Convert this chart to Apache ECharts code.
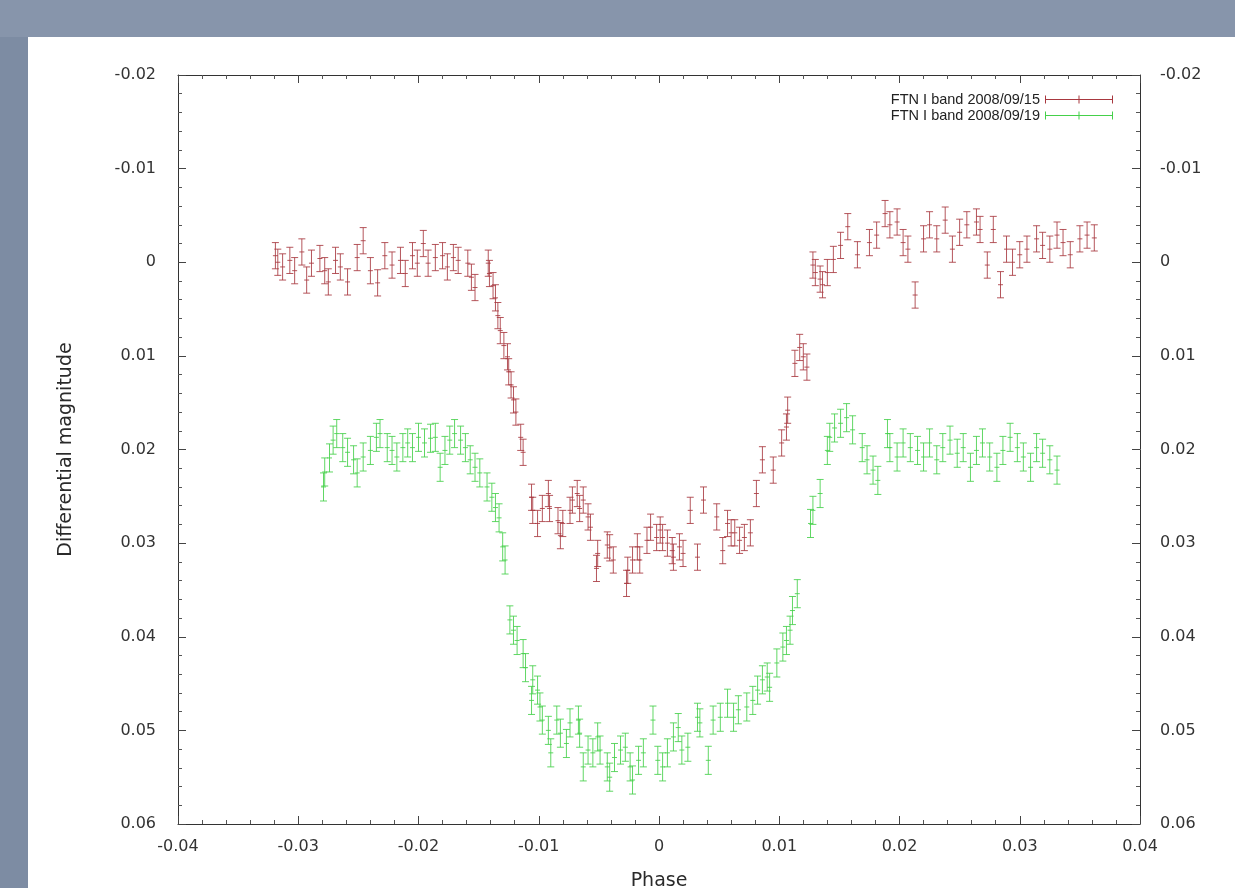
<!DOCTYPE html>
<html>
<head>
<meta charset="utf-8">
<script src="https://cdn.jsdelivr.net/npm/echarts@6/dist/echarts.min.js"></script>
<style>
html,body{margin:0;padding:0;background:#7f8ea5;}
#c{width:1235px;height:888px;}
</style>
</head>
<body>
<div id="c"></div>
<script>
// ---- data (phase, differential magnitude) ----
const seriesNames = ['FTN I band 2008/09/15', 'FTN I band 2008/09/19'];

const redPhase = [
 -0.0319,-0.0317,-0.0313,-0.0307,-0.0303,-0.0297,-0.0293,-0.0289,-0.0282,-0.0278,-0.0275,-0.0269,-0.0265,-0.0259,
 -0.0251,-0.0246,-0.0240,-0.0234,-0.0228,-0.0222,-0.0215,-0.0211,-0.0205,-0.0201,-0.0196,-0.0192,-0.0186,-0.0180,
 -0.0176,-0.0171,-0.0167,-0.0159,-0.0156,-0.0153,-0.0142,-0.0141,-0.0138,
 -0.0136,-0.0134,-0.0132,-0.0129,-0.0126,-0.0125,-0.0123,-0.0121,-0.0119,-0.0115,-0.0113,
 -0.0106,-0.0105,-0.0101,-0.0097,-0.0092,-0.0091,-0.0084,-0.0082,-0.0080,-0.0074,-0.0072,-0.0068,-0.0066,-0.0063,
 -0.0059,-0.0057,-0.0052,-0.0051,-0.0043,-0.0041,-0.0038,-0.0027,-0.0026,-0.0022,-0.0018,-0.0016,-0.0010,-0.0007,
 -0.0002,0.0001,0.0003,0.0007,0.0011,0.0012,0.0017,0.0020,0.0026,0.0032,0.0037,0.0048,0.0053,0.0057,0.0060,0.0063,
 0.0067,0.0071,0.0076,
 0.0081,0.0086,0.0095,0.0102,0.0106,0.0107,0.0113,0.0117,0.0120,0.0123,
 0.0128,0.0130,0.0134,0.0136,0.0140,0.0145,0.0151,0.0157,0.0165,0.0175,0.0181,0.0188,0.0192,0.0198,0.0203,0.0207,
 0.0213,0.0220,0.0225,0.0231,0.0238,0.0244,0.0250,0.0256,0.0264,0.0267,0.0273,0.0278,0.0284,0.0289,0.0294,0.0300,
 0.0306,0.0314,0.0319,0.0325,0.0331,0.0336,0.0342,0.0350,0.0356,0.0362
];
const redMag = [
 -0.0007,0.0000,0.0005,-0.0002,0.0009,-0.0011,0.0019,0.0001,-0.0004,0.0009,0.0021,-0.0002,0.0005,0.0021,
 -0.0005,-0.0023,0.0009,0.0022,-0.0007,0.0003,-0.0002,0.0012,-0.0007,0.0001,-0.0020,0.0001,-0.0005,-0.0007,
 0.0005,-0.0005,-0.0002,0.0001,0.0016,0.0027,0.0001,0.0012,0.0025,
 0.0038,0.0057,0.0073,0.0089,0.0101,0.0117,0.0131,0.0147,0.0160,0.0187,0.0203,
 0.0251,0.0265,0.0279,0.0263,0.0247,0.0263,0.0276,0.0292,0.0279,0.0265,0.0254,0.0247,0.0263,0.0254,
 0.0272,0.0283,0.0327,0.0311,0.0302,0.0305,0.0318,0.0343,0.0329,0.0318,0.0304,0.0318,0.0297,0.0283,
 0.0294,0.0286,0.0294,0.0300,0.0308,0.0315,0.0304,0.0311,0.0265,0.0315,0.0254,0.0272,0.0308,0.0279,0.0289,0.0289,
 0.0297,0.0294,0.0289,
 0.0247,0.0211,0.0222,0.0193,0.0176,0.0158,0.0108,0.0091,0.0101,0.0112,
 0.0003,0.0011,0.0018,0.0024,0.0011,-0.0003,-0.0018,-0.0038,-0.0008,-0.0021,-0.0029,-0.0052,-0.0040,-0.0043,-0.0021,-0.0014,
 0.0035,-0.0025,-0.0040,-0.0025,-0.0045,-0.0014,-0.0032,-0.0040,-0.0043,-0.0035,0.0003,-0.0035,0.0024,-0.0014,0.0000,-0.0008,
 -0.0014,-0.0025,-0.0018,-0.0014,-0.0029,-0.0021,-0.0008,-0.0025,-0.0029,-0.0026
];
const greenPhase = [
 -0.0279,-0.0278,-0.0274,-0.0271,-0.0268,-0.0263,-0.0259,-0.0254,-0.0251,-0.0246,-0.0240,-0.0235,-0.0232,-0.0226,
 -0.0222,-0.0218,-0.0213,-0.0209,-0.0205,-0.0200,-0.0195,-0.0190,-0.0186,-0.0182,-0.0178,-0.0174,-0.0170,-0.0165,
 -0.0161,-0.0157,-0.0153,-0.0149,-0.0143,-0.0139,-0.0136,-0.0133,-0.0130,-0.0128,
 -0.0124,-0.0121,-0.0118,-0.0113,-0.0111,-0.0105,-0.0101,-0.0106,-0.0099,-0.0097,-0.0092,-0.0090,-0.0085,-0.0082,
 -0.0077,-0.0074,-0.0067,-0.0066,-0.0063,-0.0059,-0.0055,-0.0051,-0.0049,-0.0043,-0.0041,-0.0037,-0.0032,-0.0028,
 -0.0024,-0.0022,-0.0017,-0.0013,-0.0005,-0.0001,0.0003,0.0007,0.0012,0.0016,0.0019,0.0024,0.0032,0.0034,0.0041,
 0.0045,0.0051,0.0057,0.0062,0.0066,0.0073,0.0078,0.0082,0.0086,0.0090,0.0092,0.0098,0.0103,0.0106,0.0109,0.0111,
 0.0115,
 0.0126,0.0128,0.0134,
 0.0140,0.0142,0.0146,0.0151,0.0156,0.0161,0.0169,0.0173,0.0178,0.0182,0.0190,0.0192,0.0198,0.0203,0.0209,0.0215,
 0.0220,0.0225,0.0231,0.0236,0.0242,0.0248,0.0253,0.0259,0.0264,0.0269,0.0275,0.0281,0.0286,0.0292,0.0298,0.0303,
 0.0309,0.0314,0.0319,0.0325,0.0331
];
const greenMag = [
 0.0240,0.0224,0.0209,0.0190,0.0183,0.0198,0.0203,0.0211,0.0225,0.0208,0.0201,0.0187,0.0183,0.0198,
 0.0201,0.0208,0.0198,0.0193,0.0198,0.0187,0.0193,0.0188,0.0187,0.0219,0.0201,0.0190,0.0183,0.0190,
 0.0198,0.0211,0.0219,0.0225,0.0240,0.0251,0.0262,0.0273,0.0304,0.0318,
 0.0382,0.0393,0.0404,0.0418,0.0433,0.0446,0.0457,0.0468,0.0475,0.0489,0.0500,0.0524,0.0489,0.0503,
 0.0514,0.0492,0.0489,0.0503,0.0539,0.0521,0.0524,0.0507,0.0521,0.0539,0.0550,0.0529,0.0521,0.0518,
 0.0539,0.0553,0.0532,0.0524,0.0489,0.0532,0.0539,0.0524,0.0507,0.0497,0.0521,0.0518,0.0486,0.0492,0.0532,
 0.0489,0.0486,0.0471,0.0486,0.0478,0.0475,0.0468,0.0457,0.0446,0.0443,0.0454,0.0428,0.0411,0.0404,0.0393,0.0372,
 0.0354,
 0.0279,0.0265,0.0247,
 0.0201,0.0187,0.0177,0.0172,0.0166,0.0179,0.0198,0.0211,0.0222,0.0233,0.0183,0.0198,0.0208,0.0193,0.0198,0.0201,
 0.0208,0.0193,0.0211,0.0198,0.0190,0.0204,0.0198,0.0219,0.0201,0.0193,0.0208,0.0219,0.0201,0.0187,0.0198,0.0208,
 0.0219,0.0198,0.0204,0.0211,0.0222
];
const redErr = 0.0014;
const greenErr = 0.0015;
const xTicks = { min: -0.04, max: 0.04, step: 0.01 };
const yTicks = { min: -0.02, max: 0.06, step: 0.01 };

// ---- chart ----
const FONT = '"Liberation Sans", Arial, sans-serif';
const WFONT = '"DejaVu Sans", sans-serif';
const RED = '#a8383f';
const GREEN = '#45d04a';

function zip(a, b) { return a.map((v, i) => [v, b[i]]); }

function errRender(err, color) {
  return function (params, api) {
    const x = api.value(0), y = api.value(1);
    const c = api.coord([x, y]);
    const t = api.coord([x, y - err]);
    const b = api.coord([x, y + err]);
    const w = 3.5;
    const st = { stroke: color, lineWidth: 1, opacity: 0.85 };
    return {
      type: 'group',
      children: [
        { type: 'line', shape: { x1: c[0], y1: t[1], x2: c[0], y2: b[1] }, style: st },
        { type: 'line', shape: { x1: c[0] - w, y1: t[1], x2: c[0] + w, y2: t[1] }, style: st },
        { type: 'line', shape: { x1: c[0] - w, y1: b[1], x2: c[0] + w, y2: b[1] }, style: st },
        { type: 'line', shape: { x1: c[0] - 2.5, y1: c[1], x2: c[0] + 2.5, y2: c[1] }, style: st }
      ]
    };
  };
}

const legendIcon = 'path://M0,4.5L68,4.5L68,5.5L0,5.5Z M0,1L1,1L1,9L0,9Z M33.5,1L34.5,1L34.5,9L33.5,9Z M67,1L68,1L68,9L67,9Z';

const axisLineStyle = { lineStyle: { color: '#333', width: 1 } };
const labelStyle = { color: '#333', fontSize: 16, fontFamily: WFONT };
const nameStyle = { color: '#2a2a2a', fontSize: 19, fontFamily: WFONT };

function xAx(pos, showLabel) {
  return {
    type: 'value', position: pos, min: xTicks.min, max: xTicks.max, interval: xTicks.step,
    axisLine: { show: true, onZero: false, ...axisLineStyle },
    axisTick: { show: true, inside: true, length: 8, lineStyle: { color: '#444' } },
    minorTick: { show: true, splitNumber: 5, length: 4, lineStyle: { color: '#555' } },
    splitLine: { show: false },
    axisLabel: { show: showLabel, margin: 15, ...labelStyle },
    name: showLabel ? 'Phase' : '', nameLocation: 'middle', nameGap: 48,
    nameTextStyle: nameStyle
  };
}
function yAx(pos) {
  return {
    type: 'value', position: pos, inverse: true, min: yTicks.min, max: yTicks.max, interval: yTicks.step,
    axisLine: { show: true, onZero: false, ...axisLineStyle },
    axisTick: { show: true, inside: true, length: 8, lineStyle: { color: '#444' } },
    minorTick: { show: true, splitNumber: 5, length: 4, lineStyle: { color: '#555' } },
    splitLine: { show: false },
    axisLabel: { show: true, margin: pos === 'left' ? 22 : 20, ...labelStyle },
    name: pos === 'left' ? 'Differential magnitude' : '', nameLocation: 'middle', nameGap: 102, nameRotate: 90,
    nameTextStyle: nameStyle
  };
}

const chart = echarts.init(document.getElementById('c'), null, { renderer: 'canvas' });
chart.setOption({
  backgroundColor: '#7d8ca3',
  animation: false,
  graphic: [
    { type: 'rect', z: -10, shape: { x: 0, y: 0, width: 1235, height: 37 }, style: { fill: '#8795ab' } },
    { type: 'rect', z: -9, shape: { x: 28, y: 37, width: 1207, height: 851 }, style: { fill: '#ffffff' } }
  ],
  grid: { left: 178, right: 95, top: 75, bottom: 64, containLabel: false, outerBoundsMode: 'none' },
  legend: {
    orient: 'vertical', align: 'right', right: 117, top: 87,
    itemWidth: 68, itemHeight: 9, itemGap: 1,
    icon: legendIcon,
    textStyle: { color: '#222', fontSize: 14.5, fontFamily: FONT, lineHeight: 15 },
    data: seriesNames
  },
  xAxis: [xAx('bottom', true), xAx('top', false)],
  yAxis: [yAx('left'), yAx('right')],
  series: [
    {
      name: seriesNames[0], type: 'custom', xAxisIndex: 0, yAxisIndex: 0,
      itemStyle: { color: RED }, encode: { x: 0, y: 1 },
      renderItem: errRender(redErr, RED), data: zip(redPhase, redMag)
    },
    {
      name: seriesNames[1], type: 'custom', xAxisIndex: 0, yAxisIndex: 0,
      itemStyle: { color: GREEN }, encode: { x: 0, y: 1 },
      renderItem: errRender(greenErr, GREEN), data: zip(greenPhase, greenMag)
    }
  ]
});
</script>
</body>
</html>
